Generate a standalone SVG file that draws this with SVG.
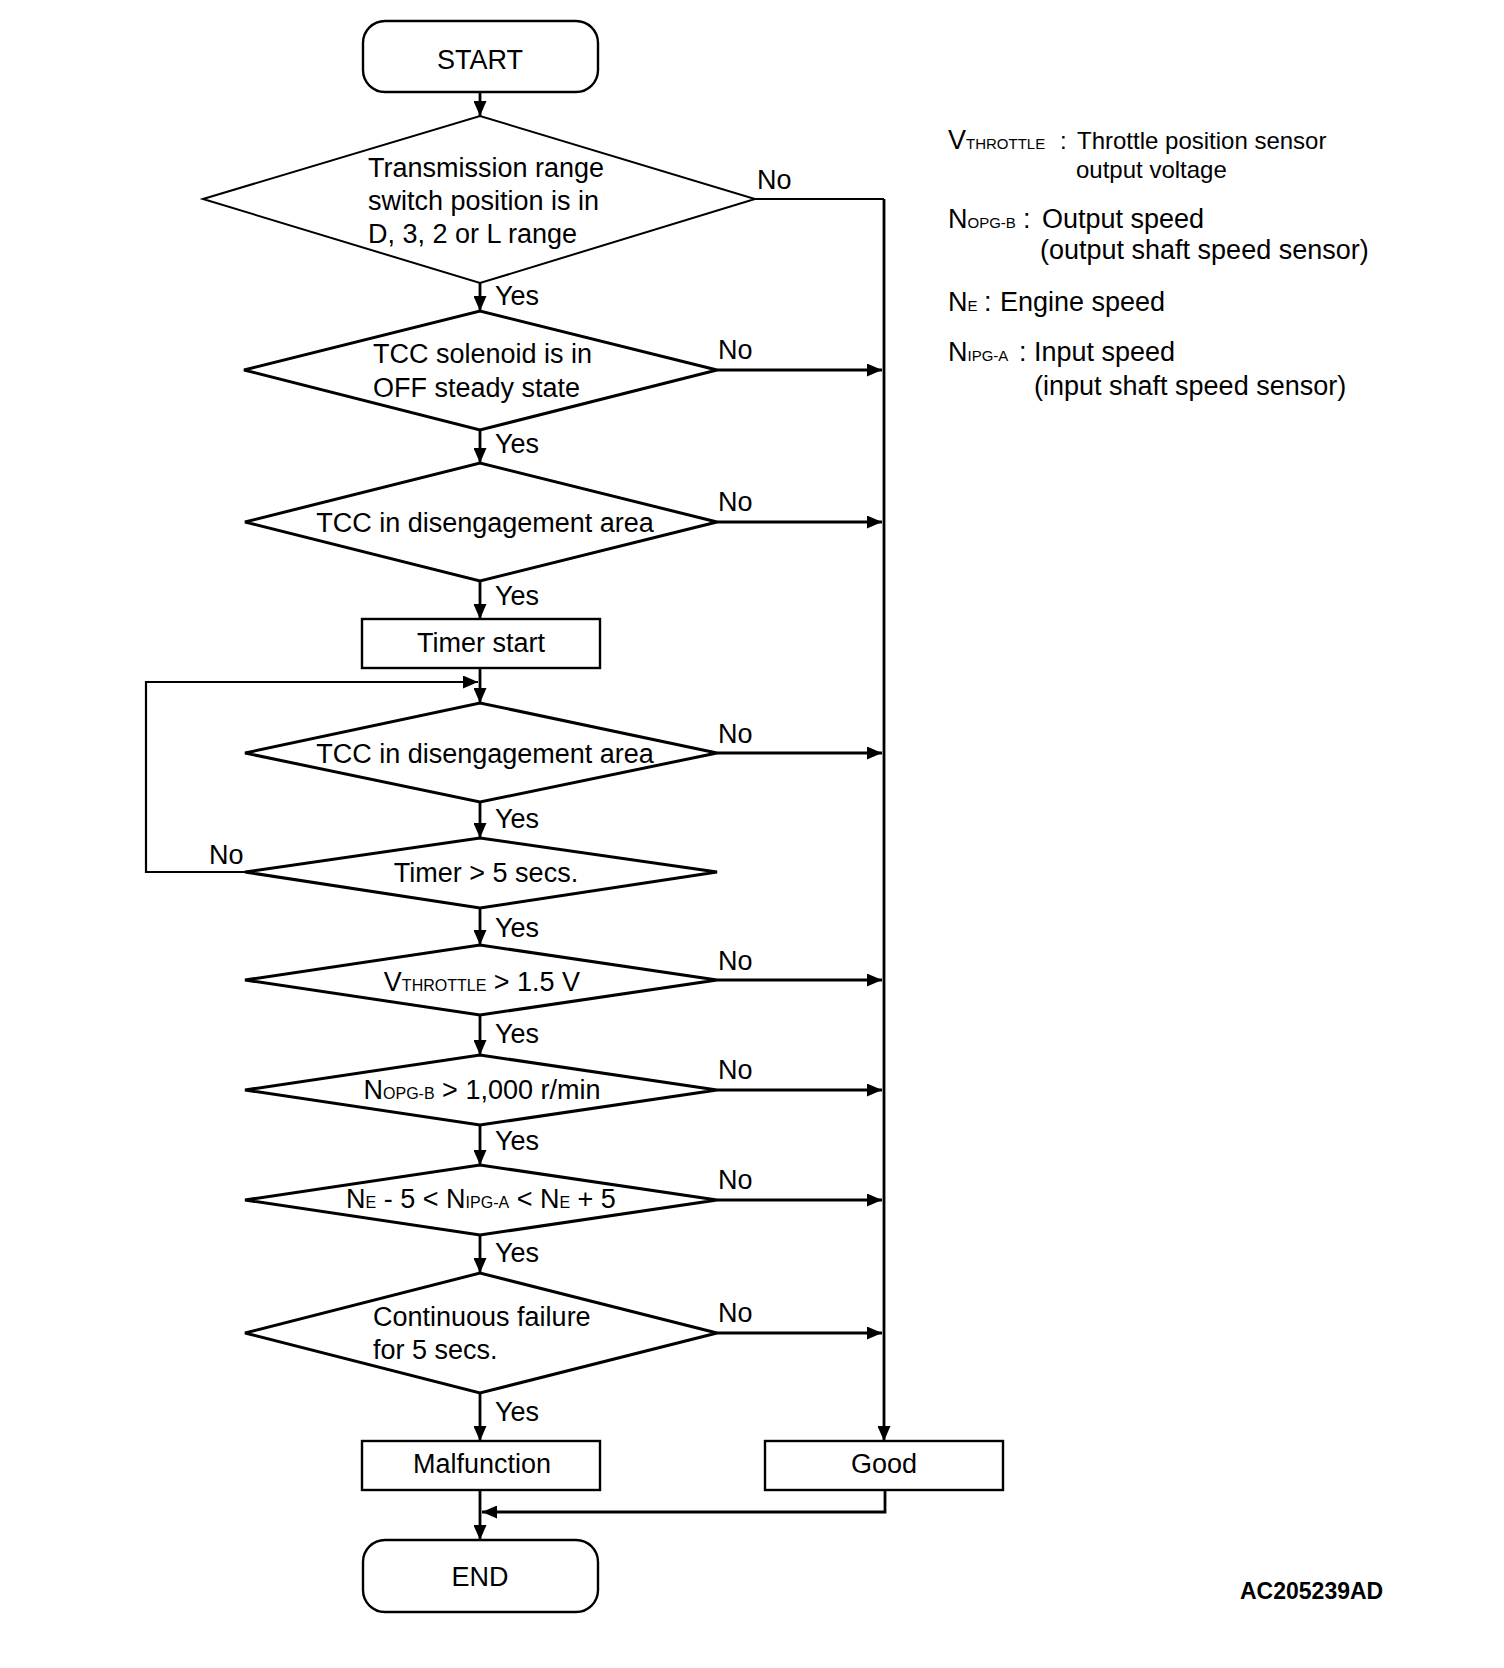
<svg xmlns="http://www.w3.org/2000/svg" width="1504" height="1668" viewBox="0 0 1504 1668">
<style>
text{font-family:"Liberation Sans",Arial,sans-serif;font-size:27px;fill:#000}
.term{fill:#fff;stroke:#000;stroke-width:2.4}
.box{fill:#fff;stroke:#000;stroke-width:2.4}
.dia{fill:#fff;stroke:#000;stroke-width:3;stroke-linejoin:miter}
.dia1{fill:#fff;stroke:#000;stroke-width:2}
.con{fill:none;stroke:#000;stroke-width:2.8}
.thin{fill:none;stroke:#000;stroke-width:2.2}
.sub{font-size:16px}
.mid{text-anchor:middle}
.leg{font-size:24px}
.lsub{font-size:15px}
.code{font-size:23px;font-weight:bold}
</style>
<defs>
<marker id="arr" viewBox="0 0 15 13" refX="15" refY="6.5" markerWidth="15" markerHeight="13" markerUnits="userSpaceOnUse" orient="auto">
<path d="M0,0 L15,6.5 L0,13 z" fill="#000"/>
</marker>
</defs>

<g id="connectors">
<path class="con" d="M480,92 V116" marker-end="url(#arr)"/>
<path class="con" d="M480,283 V311" marker-end="url(#arr)"/>
<path class="con" d="M480,430 V463" marker-end="url(#arr)"/>
<path class="con" d="M480,581 V619" marker-end="url(#arr)"/>
<path class="con" d="M480,668 V703" marker-end="url(#arr)"/>
<path class="con" d="M480,802 V838" marker-end="url(#arr)"/>
<path class="con" d="M480,908 V945" marker-end="url(#arr)"/>
<path class="con" d="M480,1015 V1055" marker-end="url(#arr)"/>
<path class="con" d="M480,1125 V1165" marker-end="url(#arr)"/>
<path class="con" d="M480,1235 V1273" marker-end="url(#arr)"/>
<path class="con" d="M480,1393 V1441" marker-end="url(#arr)"/>
<path class="con" d="M480,1490 V1540" marker-end="url(#arr)"/>
<path class="con" d="M885,1490 V1512 H482" marker-end="url(#arr)"/>
<path class="thin" d="M245,872 H146 V682 H478" marker-end="url(#arr)"/>
<path class="thin" d="M755,199 H884"/>
<path class="con" d="M884,199 V1441" marker-end="url(#arr)"/>
<path class="con" d="M717,370 H882" marker-end="url(#arr)"/>
<path class="con" d="M717,522 H882" marker-end="url(#arr)"/>
<path class="con" d="M717,753 H882" marker-end="url(#arr)"/>
<path class="con" d="M717,980 H882" marker-end="url(#arr)"/>
<path class="con" d="M717,1090 H882" marker-end="url(#arr)"/>
<path class="con" d="M717,1200 H882" marker-end="url(#arr)"/>
<path class="con" d="M717,1333 H882" marker-end="url(#arr)"/>
<text x="495" y="305">Yes</text>
<text x="495" y="453">Yes</text>
<text x="495" y="605">Yes</text>
<text x="495" y="828">Yes</text>
<text x="495" y="937">Yes</text>
<text x="495" y="1043">Yes</text>
<text x="495" y="1150">Yes</text>
<text x="495" y="1262">Yes</text>
<text x="495" y="1421">Yes</text>
<text x="757" y="189">No</text>
<text x="718" y="359">No</text>
<text x="718" y="511">No</text>
<text x="718" y="743">No</text>
<text x="718" y="970">No</text>
<text x="718" y="1079">No</text>
<text x="718" y="1189">No</text>
<text x="718" y="1322">No</text>
<text x="209" y="864">No</text>
</g>

<g id="start">
<rect class="term" x="363" y="21" width="235" height="71" rx="22" ry="22"/>
<text class="mid" x="480" y="69">START</text>
</g>

<g id="d1">
<polygon class="dia1" points="203,199 480,116 755,199 480,283"/>
<text x="368" y="177">Transmission range</text>
<text x="368" y="210">switch position is in</text>
<text x="368" y="243">D, 3, 2 or L range</text>
</g>

<g id="d2">
<polygon class="dia" points="244,370 480,311 717,370 480,430"/>
<text x="373" y="363">TCC solenoid is in</text>
<text x="373" y="397">OFF steady state</text>
</g>

<g id="d3">
<polygon class="dia" points="245,522 480,463 717,522 480,581"/>
<text class="mid" x="485" y="532">TCC in disengagement area</text>
</g>

<g id="timer">
<rect class="box" x="362" y="619" width="238" height="49"/>
<text class="mid" x="481" y="652">Timer start</text>
</g>

<g id="d4">
<polygon class="dia" points="245,753 480,703 717,753 480,802"/>
<text class="mid" x="485" y="763">TCC in disengagement area</text>
</g>

<g id="d5">
<polygon class="dia" points="245,872 480,838 717,872 480,908"/>
<text class="mid" x="486" y="882">Timer &gt; 5 secs.</text>
</g>

<g id="d6">
<polygon class="dia" points="245,980 480,945 717,980 480,1015"/>
<text class="mid" x="482" y="991">V<tspan class="sub">THROTTLE</tspan> &gt; 1.5 V</text>
</g>

<g id="d7">
<polygon class="dia" points="245,1090 480,1055 717,1090 480,1125"/>
<text class="mid" x="482" y="1099">N<tspan class="sub">OPG-B</tspan> &gt; 1,000 r/min</text>
</g>

<g id="d8">
<polygon class="dia" points="245,1200 480,1165 717,1200 480,1235"/>
<text class="mid" x="481" y="1208">N<tspan class="sub">E</tspan> - 5 &lt; N<tspan class="sub">IPG-A</tspan> &lt; N<tspan class="sub">E</tspan> + 5</text>
</g>

<g id="d9">
<polygon class="dia" points="245,1333 480,1273 717,1333 480,1393"/>
<text x="373" y="1326">Continuous failure</text>
<text x="373" y="1359">for 5 secs.</text>
</g>

<g id="malfunction">
<rect class="box" x="362" y="1441" width="238" height="49"/>
<text class="mid" x="482" y="1473">Malfunction</text>
</g>

<g id="good">
<rect class="box" x="765" y="1441" width="238" height="49"/>
<text class="mid" x="884" y="1473">Good</text>
</g>

<g id="end">
<rect class="term" x="363" y="1540" width="235" height="72" rx="22" ry="22"/>
<text class="mid" x="480" y="1586">END</text>
</g>

<g id="legend">
<text x="948" y="149">V<tspan class="lsub">THROTTLE</tspan><tspan class="leg" x="1060">:</tspan><tspan class="leg" x="1077">Throttle position sensor</tspan></text>
<text class="leg" x="1076" y="178">output voltage</text>
<text x="948" y="228">N<tspan class="lsub">OPG-B</tspan><tspan x="1023">:</tspan><tspan x="1042">Output speed</tspan></text>
<text x="1040" y="259">(output shaft speed sensor)</text>
<text x="948" y="311">N<tspan class="lsub">E</tspan><tspan x="984">:</tspan><tspan x="1000">Engine speed</tspan></text>
<text x="948" y="361">N<tspan class="lsub">IPG-A</tspan><tspan x="1019">:</tspan><tspan x="1034">Input speed</tspan></text>
<text x="1034" y="395">(input shaft speed sensor)</text>
</g>

<g id="code">
<text class="code" x="1240" y="1599">AC205239AD</text>
</g>
</svg>
